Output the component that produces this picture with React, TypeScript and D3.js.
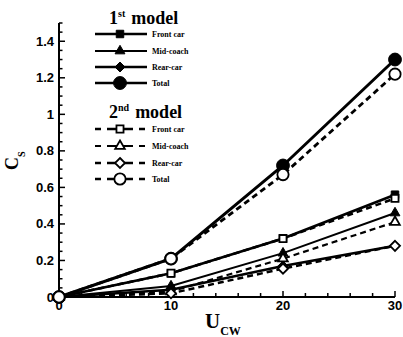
import React, { useEffect, useRef } from 'react';
import * as d3 from 'd3';

// Crosswind velocity (x) and side force coefficient per car (y)
const ucw = [0, 10, 20, 30];

const front1 = [0, 0.13, 0.32, 0.56];
const mid1 = [0, 0.06, 0.24, 0.46];
const rear1 = [0, 0.04, 0.17, 0.28];
const total1 = [0, 0.21, 0.72, 1.3];

const front2 = [0, 0.13, 0.32, 0.54];
const mid2 = [0, 0.03, 0.21, 0.41];
const rear2 = [0, 0.02, 0.155, 0.28];
const total2 = [0, 0.21, 0.67, 1.22];

const names = ['Front car', 'Mid-coach', 'Rear-car', 'Total'];
const xTicks = [0, 10, 20, 30];
const yTicks = [0, 0.2, 0.4, 0.6, 0.8, 1, 1.2, 1.4];

const W = 403;
const H = 337;

type Series = { name: string; values: number[]; shape: string; width: number };

const firstModel: Series[] = [
  { name: names[0], values: front1, shape: 'square', width: 2.8 },
  { name: names[1], values: mid1, shape: 'triangle', width: 2 },
  { name: names[2], values: rear1, shape: 'diamond', width: 2.5 },
  { name: names[3], values: total1, shape: 'circle', width: 3 },
];
const secondModel: Series[] = [
  { name: names[0], values: front2, shape: 'square', width: 2.5 },
  { name: names[1], values: mid2, shape: 'triangle', width: 2.2 },
  { name: names[2], values: rear2, shape: 'diamond', width: 2.5 },
  { name: names[3], values: total2, shape: 'circle', width: 2.8 },
];

// diamond drawn as a square turned 45 degrees, like the original markers
const diamond = (r: number) => `M0,${-r}L${r},0L0,${r}L${-r},0Z`;

const symbolFor = (shape: string, filled: boolean) => {
  const gen = d3.symbol();
  if (shape === 'square') return gen.type(d3.symbolSquare).size(filled ? 56 : 50)();
  if (shape === 'triangle') return gen.type(d3.symbolTriangle).size(filled ? 42 : 40)();
  if (shape === 'diamond') return diamond(filled ? 5 : 5);
  return gen.type(d3.symbolCircle).size(filled ? 130 : 100)();
};

export default function App() {
  const svgRef = useRef<SVGSVGElement>(null);

  useEffect(() => {
    if (!svgRef.current) return;
    const svg = d3.select(svgRef.current);
    svg.selectAll('*').remove();

    const x = d3.scaleLinear().domain([0, 30]).range([59, 395]);
    const y = d3.scaleLinear().domain([0, 1.5]).range([297, 23]);

    const g = svg.append('g');

    // Axes (left and bottom only, ticks pointing inward)
    g.append('line')
      .attr('x1', x(0)).attr('x2', x(0))
      .attr('y1', y(0)).attr('y2', y(1.5))
      .attr('stroke', '#000').attr('stroke-width', 2);
    g.append('line')
      .attr('x1', x(0)).attr('x2', x(30))
      .attr('y1', y(0)).attr('y2', y(0))
      .attr('stroke', '#000').attr('stroke-width', 2);

    d3.range(0, 1.5001, 0.05).forEach((v) => {
      const major = Math.abs(Math.round(v * 5) - v * 5) < 1e-6;
      g.append('line')
        .attr('x1', x(0)).attr('x2', x(0) + (major ? 6 : 3.5))
        .attr('y1', y(v)).attr('y2', y(v))
        .attr('stroke', '#000').attr('stroke-width', 1.5);
    });
    d3.range(0, 30.001, 2).forEach((v) => {
      const major = v % 10 === 0;
      g.append('line')
        .attr('x1', x(v)).attr('x2', x(v))
        .attr('y1', y(0)).attr('y2', y(0) - (major ? 6 : 4))
        .attr('stroke', '#000').attr('stroke-width', 1.5);
    });

    const tickFont = "'Liberation Sans Narrow', 'Liberation Sans', Arial, sans-serif";
    g.selectAll('.ytl')
      .data(yTicks)
      .enter()
      .append('text')
      .attr('x', 54)
      .attr('y', (d) => y(d) + 4.5)
      .attr('text-anchor', 'end')
      .style('font-family', tickFont)
      .style('font-weight', 'bold')
      .style('font-size', '13px')
      .text((d) => String(d));

    g.selectAll('.xtl')
      .data(xTicks)
      .enter()
      .append('text')
      .attr('x', (d) => x(d))
      .attr('y', 310)
      .attr('text-anchor', 'middle')
      .style('font-family', tickFont)
      .style('font-weight', 'bold')
      .style('font-size', '13px')
      .text((d) => String(d));

    const serif = "'Liberation Serif', 'DejaVu Serif', serif";

    // Axis titles
    const yl = g.append('text')
      .attr('transform', 'translate(18,170) rotate(-90)')
      .style('font-family', serif)
      .style('font-weight', 'bold')
      .style('font-size', '18px');
    yl.append('tspan').text('C');
    yl.append('tspan').attr('dy', 7).style('font-size', '10px').text('S');

    const xl = g.append('text')
      .attr('x', 205)
      .attr('y', 328)
      .style('font-family', serif)
      .style('font-weight', 'bold')
      .style('font-size', '21px');
    xl.append('tspan').text('U');
    xl.append('tspan').attr('dy', 7).style('font-size', '12px').text('CW');

    const line = d3
      .line<number>()
      .x((_, i) => x(ucw[i]))
      .y((d) => y(d));

    const drawSeries = (list: Series[], dashed: boolean) => {
      list.forEach((s) => {
        g.append('path')
          .attr('d', line(s.values))
          .attr('fill', 'none')
          .attr('stroke', '#000')
          .attr('stroke-width', s.width)
          .attr('stroke-dasharray', dashed ? '6,4' : null);
      });
      list.forEach((s) => {
        g.selectAll(null)
          .data(s.values)
          .enter()
          .append('path')
          .attr('transform', (d, i) => `translate(${x(ucw[i])},${y(d)})`)
          .attr('d', symbolFor(s.shape, !dashed))
          .attr('fill', dashed ? '#fff' : '#000')
          .attr('stroke', '#000')
          .attr('stroke-width', dashed ? 1.8 : 1);
      });
    };

    drawSeries(firstModel, false);
    drawSeries(secondModel, true);

    // Legends
    const drawLegend = (
      top: number,
      sup: string,
      list: Series[],
      dashed: boolean,
      rows: number[]
    ) => {
      const t = g.append('text')
        .attr('x', 109)
        .attr('y', top)
        .style('font-family', serif)
        .style('font-weight', 'bold')
        .style('font-size', '18px');
      t.append('tspan').text(sup[0]);
      t.append('tspan').attr('dy', -7).style('font-size', '10px').text(sup.slice(1));
      t.append('tspan').attr('dy', 7).attr('dx', 6).text('model');

      list.forEach((s, i) => {
        const ry = rows[i];
        g.append('line')
          .attr('x1', 95).attr('x2', 147)
          .attr('y1', ry).attr('y2', ry)
          .attr('stroke', '#000')
          .attr('stroke-width', s.shape === 'triangle' ? 1.8 : 2.5)
          .attr('stroke-dasharray', dashed ? '6,6,26,6' : null);
        g.append('path')
          .attr('transform', `translate(120,${ry})`)
          .attr('d', symbolFor(s.shape, !dashed))
          .attr('fill', dashed ? '#fff' : '#000')
          .attr('stroke', '#000')
          .attr('stroke-width', dashed ? 1.8 : 1);
        g.append('text')
          .attr('x', 152)
          .attr('y', ry + 3)
          .style('font-family', serif)
          .style('font-weight', 'bold')
          .style('font-size', '8px')
          .text(s.name);
      });
    };

    drawLegend(24, '1st', firstModel, false, [34, 51, 67, 83]);
    drawLegend(118, '2nd', secondModel, true, [129, 146, 163, 179]);
  }, []);

  return (
    <div style={{ position: 'absolute', left: 0, top: 0, width: W, height: H, background: '#fff' }}>
      <svg ref={svgRef} width={W} height={H} />
    </div>
  );
}
